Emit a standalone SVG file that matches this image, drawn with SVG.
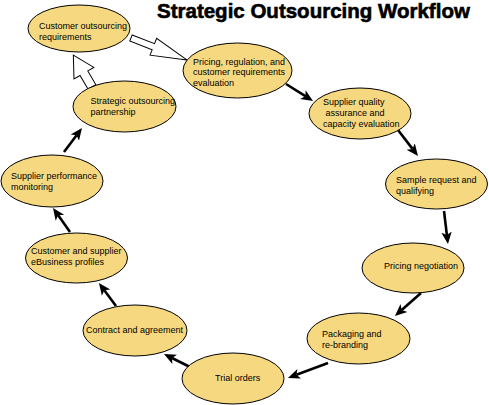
<svg xmlns="http://www.w3.org/2000/svg" width="489" height="405" viewBox="0 0 489 405">
<style>
.n{fill:#F6D880;stroke:#000;stroke-width:1}
.t{font-family:"Liberation Sans",Arial,sans-serif;font-size:9px;fill:#000}
.title{font-family:"Liberation Sans",Arial,sans-serif;font-size:20.5px;font-weight:bold;fill:#000;stroke:#000;stroke-width:0.6}
.c{stroke:#000;stroke-width:2.6;fill:none;marker-end:url(#ah)}
.h{fill:#fff;stroke:#000;stroke-width:1}
</style>
<defs>
<marker id="ah" viewBox="0 0 12 12" refX="3" refY="6" markerWidth="12" markerHeight="12" markerUnits="userSpaceOnUse" orient="auto">
<path d="M0,0.8 L12,6 L0,11.2 L3,6 z" fill="#000"/>
</marker>
</defs>
<rect width="489" height="405" fill="#fff"/>
<text class="title" x="157" y="18">Strategic Outsourcing Workflow</text>
<g id="connectors">
<line class="c" x1="286" y1="84" x2="305.4" y2="96.2"/>
<line class="c" x1="398" y1="130" x2="412.5" y2="148.9"/>
<line class="c" x1="444" y1="211" x2="446.9" y2="235.1"/>
<line class="c" x1="421" y1="293" x2="401.7" y2="310"/>
<line class="c" x1="328" y1="363" x2="296.4" y2="374.8"/>
<line class="c" x1="190" y1="367" x2="172" y2="358"/>
<line class="c" x1="116" y1="306" x2="104.3" y2="290.2"/>
<line class="c" x1="70" y1="232" x2="58.2" y2="215.3"/>
<line class="c" x1="64" y1="152" x2="76.6" y2="135.2"/>
<polygon class="h" transform="translate(92,87) rotate(-120.3)" points="0,-4.5 16,-4.5 16,-11.5 37,0 16,11.5 16,4.5 0,4.5"/>
<polygon class="h" transform="translate(131,38) rotate(21.4)" points="0,-3.3 24,-3.3 24,-9 60,0 24,9 24,3.3 0,3.3"/>
</g>
<g id="n1"><ellipse class="n" cx="79" cy="28.5" rx="51" ry="23.5"/><text class="t" x="39" y="29">Customer outsourcing</text><text class="t" x="39" y="40">requirements</text></g>
<g id="n2"><ellipse class="n" cx="237.5" cy="70.5" rx="54.5" ry="27.5"/><text class="t" x="193" y="64.5">Pricing, regulation, and</text><text class="t" x="193" y="75">customer requirements</text><text class="t" x="193" y="85.5">evaluation</text></g>
<g id="n3"><ellipse class="n" cx="360" cy="113.5" rx="51" ry="25.5"/><text class="t" x="323" y="105">Supplier quality</text><text class="t" x="325.5" y="116">assurance and</text><text class="t" x="323" y="127">capacity evaluation</text></g>
<g id="n4"><ellipse class="n" cx="436.5" cy="184" rx="51" ry="25"/><text class="t" x="396" y="183">Sample request and</text><text class="t" x="396" y="194">qualifying</text></g>
<g id="n5"><ellipse class="n" cx="413" cy="268" rx="51" ry="25"/><text class="t" x="384" y="269">Pricing negotiation</text></g>
<g id="n6"><ellipse class="n" cx="358.5" cy="338.5" rx="51.5" ry="25.5"/><text class="t" x="322" y="337">Packaging and</text><text class="t" x="322" y="348">re-branding</text></g>
<g id="n7"><ellipse class="n" cx="233" cy="378.5" rx="51" ry="25.5"/><text class="t" x="215" y="381">Trial orders</text></g>
<g id="n8"><ellipse class="n" cx="135" cy="330.5" rx="52" ry="25.5"/><text class="t" x="86" y="333">Contract and agreement</text></g>
<g id="n9"><ellipse class="n" cx="76.5" cy="258" rx="51" ry="25"/><text class="t" x="31" y="254">Customer and supplier</text><text class="t" x="31" y="265">eBusiness profiles</text></g>
<g id="n10"><ellipse class="n" cx="52" cy="181" rx="51" ry="26"/><text class="t" x="11" y="179">Supplier performance</text><text class="t" x="11" y="190">monitoring</text></g>
<g id="n11"><ellipse class="n" cx="124.5" cy="106.5" rx="51.5" ry="25.5"/><text class="t" x="90.5" y="104">Strategic outsourcing</text><text class="t" x="90.5" y="115">partnership</text></g>
</svg>
